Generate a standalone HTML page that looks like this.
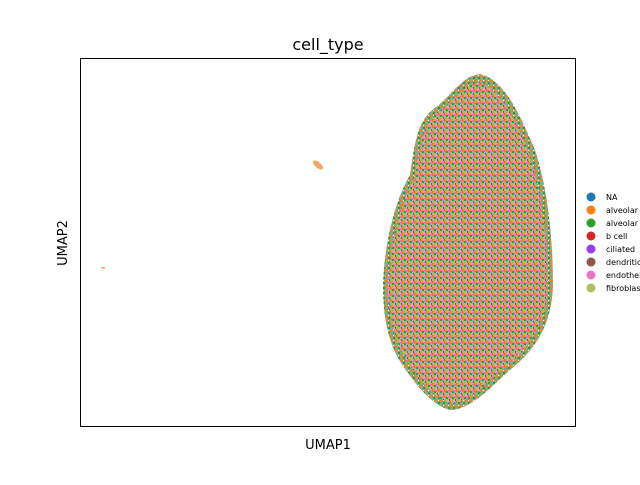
<!DOCTYPE html>
<html><head><style>body{margin:0;background:#fff}svg text{font-family:"DejaVu Sans","Liberation Sans",sans-serif}</style></head>
<body>
<svg width="640" height="480" viewBox="0 0 640 480">
<defs>
<pattern id="dots" width="6" height="6" patternUnits="userSpaceOnUse">
<rect width="6" height="6" fill="#bca594"/>
<rect x="0" y="0" width="2" height="2" fill="#ff7f0e"/>
<rect x="2" y="1" width="2" height="2" fill="#2ca02c"/>
<rect x="4" y="0" width="2" height="2" fill="#e377c2"/>
<rect x="1" y="3" width="2" height="2" fill="#bcbd22"/>
<rect x="3" y="4" width="2" height="2" fill="#d9a0c0"/>
<rect x="5" y="3" width="1" height="2" fill="#8c564b"/>
<rect x="0" y="5" width="1" height="1" fill="#9467bd"/>
</pattern>
<pattern id="edge" width="5" height="5" patternUnits="userSpaceOnUse">
<rect width="5" height="5" fill="#8aa67a"/>
<rect x="0" y="0" width="2" height="2" fill="#ff7f0e"/>
<rect x="3" y="2" width="2" height="2" fill="#2ca02c"/>
<rect x="1" y="3" width="1" height="1" fill="#e377c2"/>
<rect x="3" y="0" width="1" height="1" fill="#fff"/>
</pattern>
</defs>
<text x="328" y="50" font-size="16" text-anchor="middle">cell_type</text>
<rect x="80.5" y="58.5" width="495" height="368" fill="#fff" stroke="#000" stroke-width="1"/>
<path fill="url(#edge)" d="M480,74 C505,80 520,115 535,150 C548,190 553,240 553,285 C552,325 535,350 510,370 C490,388 470,410 450,410 C430,405 412,380 398,358 C386,335 383,310 383,285 C384,245 395,200 410,175 C415,140 418,120 435,108 C452,95 462,76 480,74 Z"/>
<path fill="url(#dots)" d="M480,82 C503,92 517,122 530,155 C542,195 548,240 548,285 C547,322 530,347 507,366 C487,383 470,402 451,403 C432,398 416,376 403,354 C391,332 388,308 388,285 C389,247 400,203 414,178 C419,146 423,124 438,112 C454,100 465,84 480,82 Z"/>
<ellipse cx="318" cy="165" rx="6" ry="3" transform="rotate(40 318 165)" fill="#f0a868"/>
<rect x="101" y="267" width="4" height="1.5" fill="#f0a868"/>
<text x="328" y="449" font-size="13" text-anchor="middle">UMAP1</text>
<text x="67" y="243" font-size="13" text-anchor="middle" transform="rotate(-90 67 243)">UMAP2</text>
<g id="legend"></g>
</svg>
<script>
const categories=["NA","alveolar","alveolar","b cell","ciliated","dendritic","endothel","fibroblas"];
const colors=["#1f77b4","#ff7f0e","#2ca02c","#d62728","#9a3cf0","#8c564b","#e377c2","#b5bd61"];
const g=document.getElementById('legend');
const NS="http://www.w3.org/2000/svg";
categories.forEach((c,i)=>{
 const y=197+i*13;
 const ci=document.createElementNS(NS,'circle');
 ci.setAttribute('cx',591);ci.setAttribute('cy',y);ci.setAttribute('r',4.5);ci.setAttribute('fill',colors[i]);
 
 
 g.appendChild(ci);
 const t=document.createElementNS(NS,'text');
 t.setAttribute('x',606);t.setAttribute('y',y+3);t.setAttribute('font-size',8);t.textContent=c;
 
 
 g.appendChild(t);
});
</script>
</body></html>
